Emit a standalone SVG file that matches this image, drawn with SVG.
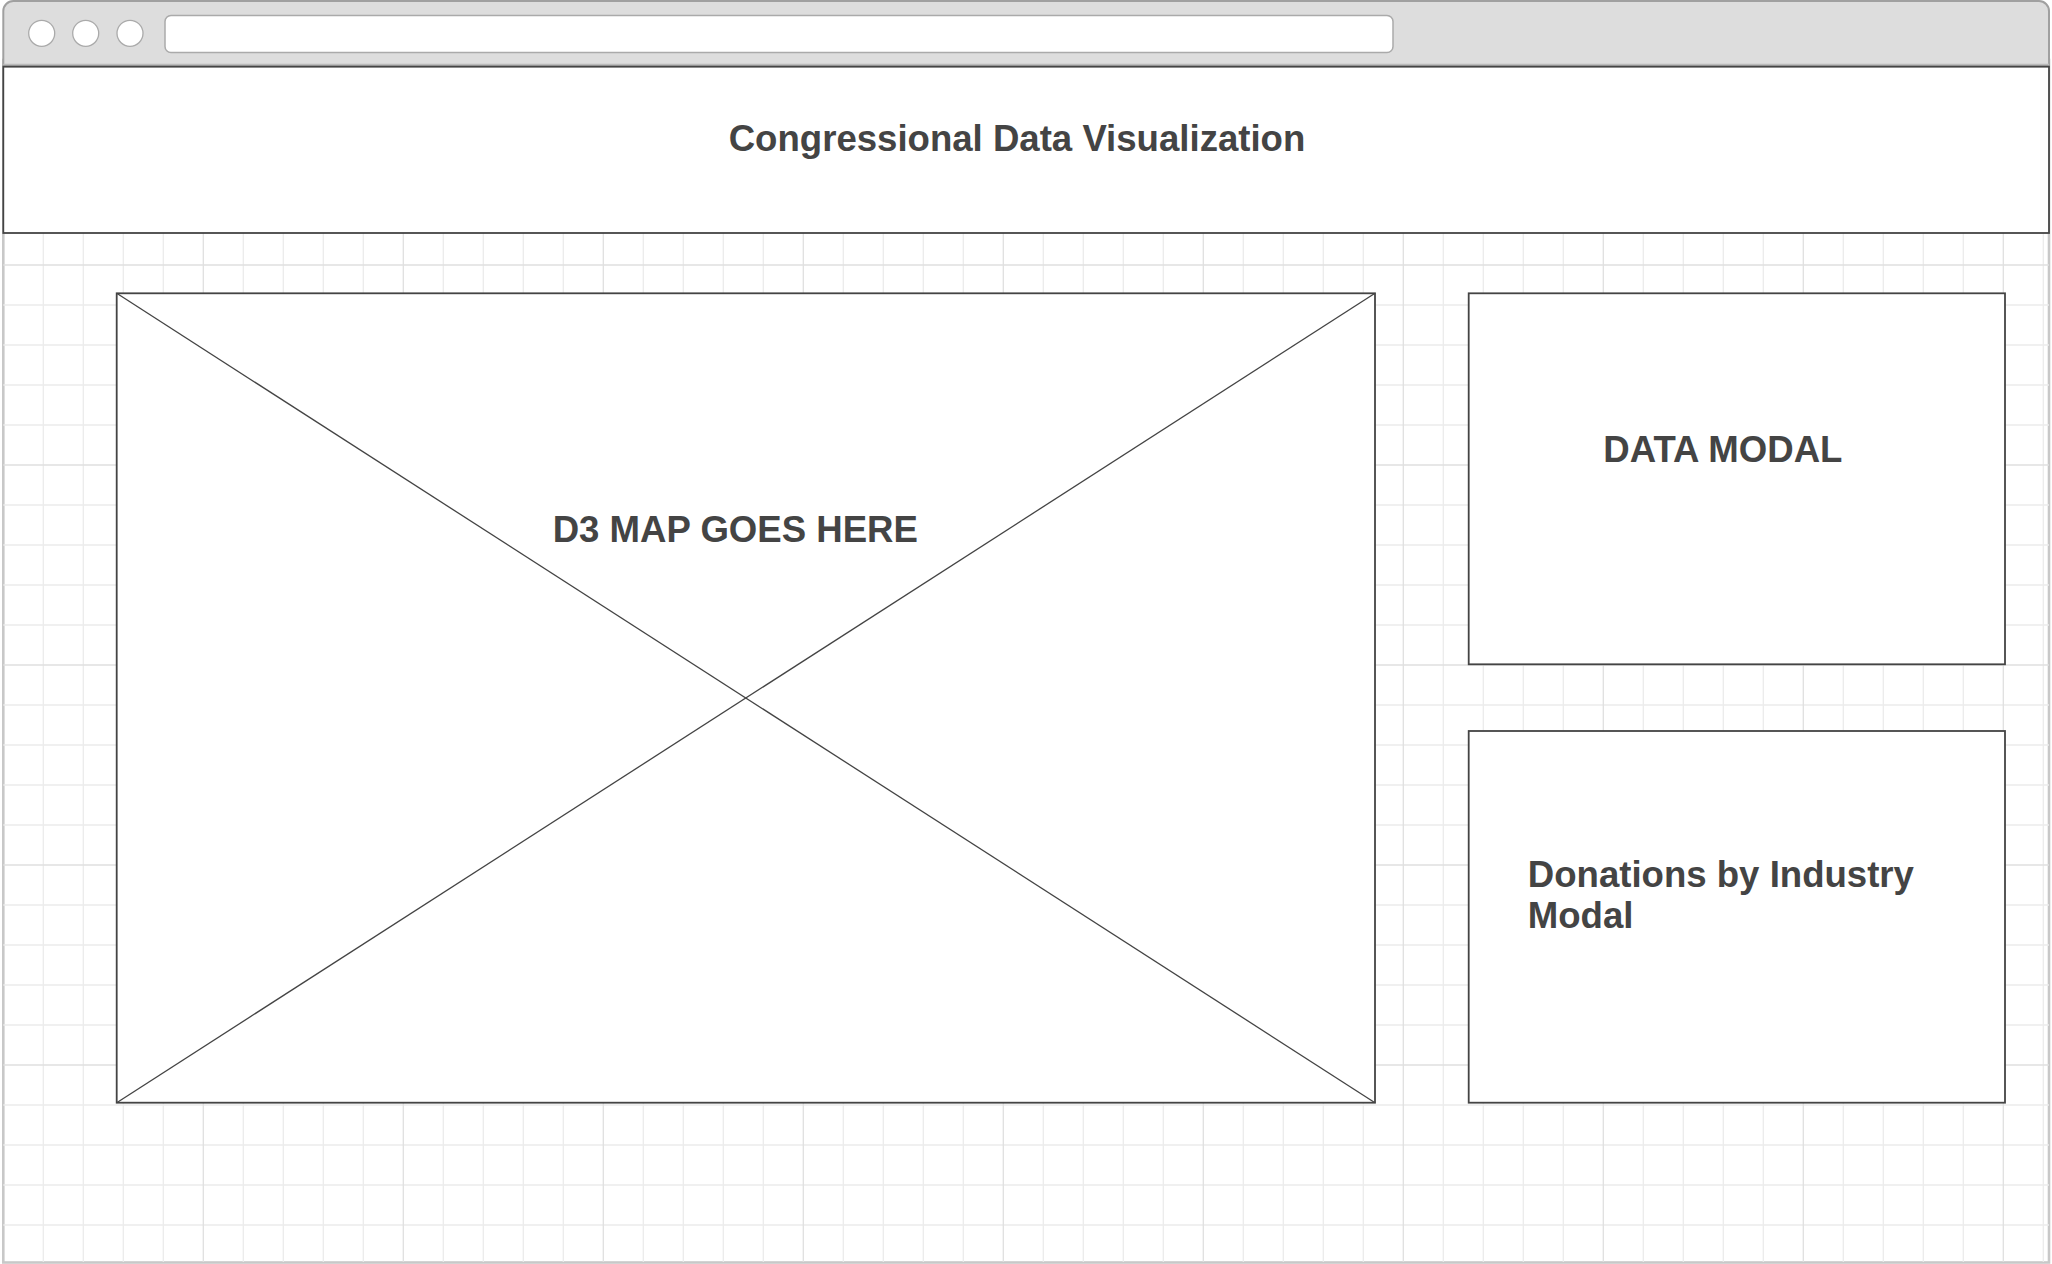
<svg xmlns="http://www.w3.org/2000/svg" width="2052" height="1264" viewBox="0 0 2052 1264">
  <style>
    .minor { stroke: #ececec; stroke-width: 1.3; }
    .major { stroke: #e0e0e0; stroke-width: 1.3; }
    .box { fill: #ffffff; stroke: #444444; stroke-width: 1.8; }
    .diag { stroke: #444444; stroke-width: 1.3; fill: none; }
    .label { font-family: "Liberation Sans", Arial, Helvetica, sans-serif; font-weight: bold; font-size: 36.6px; fill: #444444; }
    .dot { fill: #ffffff; stroke: #aaaaaa; stroke-width: 1.3; }
  </style>
  <rect x="0" y="0" width="2052" height="1264" fill="#ffffff"/>
  <!-- window body -->
  <rect x="3.3" y="60" width="2045.7" height="1202.5" fill="#ffffff" stroke="#c8c8c8" stroke-width="2.6"/>
  <!-- grid -->
  <g id="grid">
    <path class="minor" d="M43.3 233V1262M83.3 233V1262M123.3 233V1262M163.3 233V1262M243.3 233V1262M283.3 233V1262M323.3 233V1262M363.3 233V1262M443.3 233V1262M483.3 233V1262M523.3 233V1262M563.3 233V1262M643.3 233V1262M683.3 233V1262M723.3 233V1262M763.3 233V1262M843.3 233V1262M883.3 233V1262M923.3 233V1262M963.3 233V1262M1043.3 233V1262M1083.3 233V1262M1123.3 233V1262M1163.3 233V1262M1243.3 233V1262M1283.3 233V1262M1323.3 233V1262M1363.3 233V1262M1443.3 233V1262M1483.3 233V1262M1523.3 233V1262M1563.3 233V1262M1643.3 233V1262M1683.3 233V1262M1723.3 233V1262M1763.3 233V1262M1843.3 233V1262M1883.3 233V1262M1923.3 233V1262M1963.3 233V1262M2043.3 233V1262"/>
    <path class="minor" d="M3.3 305H2049M3.3 345H2049M3.3 385H2049M3.3 425H2049M3.3 505H2049M3.3 545H2049M3.3 585H2049M3.3 625H2049M3.3 705H2049M3.3 745H2049M3.3 785H2049M3.3 825H2049M3.3 905H2049M3.3 945H2049M3.3 985H2049M3.3 1025H2049M3.3 1105H2049M3.3 1145H2049M3.3 1185H2049M3.3 1225H2049"/>
    <path class="major" d="M203.3 233V1262M403.3 233V1262M603.3 233V1262M803.3 233V1262M1003.3 233V1262M1203.3 233V1262M1403.3 233V1262M1603.3 233V1262M1803.3 233V1262M2003.3 233V1262"/>
    <path class="major" d="M3.3 265H2049M3.3 465H2049M3.3 665H2049M3.3 865H2049M3.3 1065H2049"/>
  </g>
  <!-- browser top bar -->
  <g id="topbar">
    <path d="M3.3 65V11A10 10 0 0 1 13.3 1H2039A10 10 0 0 1 2049 11V65Z" fill="#dddddd" stroke="#a0a0a0" stroke-width="2"/>
    <line x1="3.3" y1="64.5" x2="2049" y2="64.5" stroke="#bbbbbb" stroke-width="1.5"/>
    <circle class="dot" cx="41.7" cy="33.3" r="13"/>
    <circle class="dot" cx="85.7" cy="33.3" r="13"/>
    <circle class="dot" cx="130" cy="33.3" r="13"/>
    <rect x="165" y="15.5" width="1228" height="37" rx="6" fill="#ffffff" stroke="#aaaaaa" stroke-width="1.5"/>
  </g>
  <g id="header">
    <rect class="box" x="3.3" y="66.7" width="2045.7" height="166.3"/>
    <text class="label" x="1017" y="150.5" text-anchor="middle">Congressional Data Visualization</text>
  </g>
  <g id="map">
    <rect class="box" x="116.7" y="293.3" width="1258.3" height="809.4"/>
    <text class="label" x="735.3" y="542.3" text-anchor="middle">D3 MAP GOES HERE</text>
  </g>
  <g id="connectors">
    <line class="diag" x1="116.7" y1="293.3" x2="1375" y2="1102.7"/>
    <line class="diag" x1="116.7" y1="1102.7" x2="1375" y2="293.3"/>
  </g>
  <g id="data-modal">
    <rect class="box" x="1468.7" y="293.3" width="536.3" height="371"/>
    <text class="label" x="1722.9" y="462.3" text-anchor="middle">DATA MODAL</text>
  </g>
  <g id="donations-modal">
    <rect class="box" x="1468.7" y="731" width="536.3" height="371.7"/>
    <text class="label" x="1527.8" y="886.7">Donations by Industry</text>
    <text class="label" x="1527.8" y="928.3">Modal</text>
  </g>
</svg>
